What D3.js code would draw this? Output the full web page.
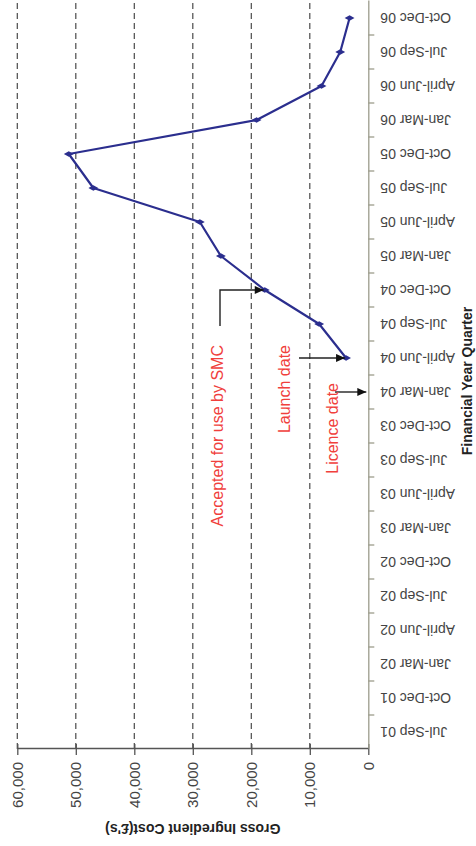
<!DOCTYPE html>
<html>
<head>
<meta charset="utf-8">
<script src="https://cdn.jsdelivr.net/npm/d3@7"></script>
<style>
  html, body { margin: 0; padding: 0; background: #fff; }
  svg { display: block; }
</style>
</head>
<body>
<script>
// Financial year quarters along the category axis
const quarters = [
  "Jul-Sep 01", "Oct-Dec 01", "Jan-Mar 02", "April-Jun 02", "Jul-Sep 02", "Oct-Dec 02",
  "Jan-Mar 03", "April-Jun 03", "Jul-Sep 03", "Oct-Dec 03", "Jan-Mar 04", "April-Jun 04",
  "Jul-Sep 04", "Oct-Dec 04", "Jan-Mar 05", "April-Jun 05", "Jul-Sep 05", "Oct-Dec 05",
  "Jan-Mar 06", "April-Jun 06", "Jul-Sep 06", "Oct-Dec 06"
];

// Gross ingredient cost per quarter (£), from launch onwards
const costQuarters = [
  "April-Jun 04", "Jul-Sep 04", "Oct-Dec 04", "Jan-Mar 05", "April-Jun 05", "Jul-Sep 05",
  "Oct-Dec 05", "Jan-Mar 06", "April-Jun 06", "Jul-Sep 06", "Oct-Dec 06"
];
const costValues = [3800, 8400, 17700, 25200, 28800, 47000, 51200, 19100, 8000, 4800, 3200];

// Value axis ticks
const valueTicks = [0, 10000, 20000, 30000, 40000, 50000, 60000];

// Milestone annotations
const eventQuarters = ["Oct-Dec 04", "April-Jun 04", "Jan-Mar 04"];
const eventLabels = ["Accepted for use by SMC", "Launch date", "Licence date"];
const eventTargets = [17700, 3800, 0];

const W = 476, H = 846;
const FONT = "'Liberation Sans', Arial, Helvetica, sans-serif";

const svg = d3.select("body").append("svg")
  .attr("width", W).attr("height", H)
  .style("font-family", FONT);

const defs = svg.append("defs");
defs.append("marker")
  .attr("id", "arrowhead")
  .attr("markerUnits", "userSpaceOnUse")
  .attr("viewBox", "0 -5 10 10")
  .attr("refX", 10).attr("refY", 0)
  .attr("markerWidth", 10).attr("markerHeight", 9)
  .attr("orient", "auto")
  .append("path")
  .attr("d", "M0,-4.5L10,0L0,4.5Z")
  .attr("fill", "#111");

// The chart is laid out landscape (H wide, W tall) and turned a quarter turn anticlockwise
const g = svg.append("g").attr("transform", `translate(0,${H}) rotate(-90)`);

const x = d3.scaleBand().domain(quarters).range([97, 845]).paddingInner(0).paddingOuter(0);
const y = d3.scaleLinear().domain([0, 60000]).range([368.3, 17.3]);
const cx = q => x(q) + x.bandwidth() / 2;

// Dashed horizontal gridlines
g.append("g").selectAll("line")
  .data(valueTicks.filter(v => v > 0))
  .join("line")
  .attr("x1", x.range()[0]).attr("x2", x.range()[1])
  .attr("y1", d => y(d)).attr("y2", d => y(d))
  .attr("stroke", "#4a4a4a")
  .attr("stroke-width", 1.2)
  .attr("stroke-dasharray", "6,4");

// Value axis
const yAxis = g.append("g")
  .attr("transform", `translate(${x.range()[0]},0)`)
  .call(d3.axisLeft(y).tickValues(valueTicks).tickFormat(d3.format(","))
    .tickSizeInner(0).tickSizeOuter(0).tickPadding(13));
yAxis.select(".domain").attr("stroke", "#555").attr("stroke-width", 1.3);
yAxis.selectAll(".tick line").attr("x1", -6).attr("x2", 5).attr("stroke", "#555").attr("stroke-width", 1.3);
yAxis.selectAll(".tick text")
  .attr("font-size", 15).attr("fill", "#444").attr("font-family", FONT);

// Category axis
const xAxis = g.append("g")
  .attr("transform", `translate(0,${y(0)})`)
  .call(d3.axisBottom(x).tickSizeInner(0).tickSizeOuter(0));
xAxis.select(".domain").attr("stroke", "#9c9c8c").attr("stroke-width", 1.3);
xAxis.selectAll(".tick line").remove();
xAxis.selectAll(".tick text")
  .attr("transform", "rotate(-90)")
  .attr("x", -12).attr("y", 0).attr("dy", "0.35em")
  .attr("text-anchor", "end")
  .attr("font-size", 14).attr("fill", "#444").attr("font-family", FONT);
// tick marks sit between categories
const boundaries = quarters.map(q => x(q)).concat([x.range()[1]]);
xAxis.append("g").selectAll("line")
  .data(boundaries.slice(1, -1))
  .join("line")
  .attr("x1", d => d).attr("x2", d => d)
  .attr("y1", 0).attr("y2", 6)
  .attr("stroke", "#9c9c8c").attr("stroke-width", 1.3);

// Axis titles
g.append("text")
  .attr("transform", `translate(17,${(y(0) + y(60000)) / 2}) rotate(-90)`)
  .attr("text-anchor", "middle").attr("dy", "0.35em")
  .attr("font-size", 14).attr("font-weight", "bold").attr("fill", "#222")
  .text("Gross Ingredient Cost(£'s)");

g.append("text")
  .attr("x", (x.range()[0] + x.range()[1]) / 2 - 6)
  .attr("y", 467).attr("dy", "0.35em")
  .attr("text-anchor", "middle")
  .attr("font-size", 14).attr("font-weight", "bold").attr("fill", "#222")
  .text("Financial Year Quarter");

// Cost line with markers
const series = costQuarters.map((q, i) => ({ q, v: costValues[i] }));
g.append("path")
  .datum(series)
  .attr("fill", "none")
  .attr("stroke", "#2b2e8e")
  .attr("stroke-width", 2.2)
  .attr("stroke-linejoin", "round")
  .attr("d", d3.line().x(d => cx(d.q)).y(d => y(d.v)));
g.append("g").selectAll("path")
  .data(series)
  .join("path")
  .attr("transform", d => `translate(${cx(d.q)},${y(d.v)})`)
  .attr("d", d3.symbol(d3.symbolDiamond, 28))
  .attr("fill", "#2b2e8e");

// Milestone annotations
const ann = g.append("g");
const arrowStyle = sel => sel.attr("fill", "none").attr("stroke", "#222")
  .attr("stroke-width", 1.4).attr("marker-end", "url(#arrowhead)");
const labelStyle = sel => sel.attr("fill", "#f0403c").attr("font-size", 16)
  .attr("text-anchor", "end").attr("font-family", FONT);

// Accepted for use by SMC: elbow connector to the data point
{
  const c = cx(eventQuarters[0]);
  ann.append("path").call(arrowStyle)
    .attr("d", `M${c - 36},220H${c}V${y(eventTargets[0]) - 1}`);
  ann.append("text").call(labelStyle)
    .attr("x", c - 55).attr("y", 223).text(eventLabels[0]);
}
// Launch date
{
  const c = cx(eventQuarters[1]);
  ann.append("path").call(arrowStyle)
    .attr("d", `M${c},299V${y(eventTargets[1]) - 1}`);
  ann.append("text").call(labelStyle)
    .attr("x", c + 13).attr("y", 290).text(eventLabels[1]);
}
// Licence date
{
  const c = cx(eventQuarters[2]);
  ann.append("path").call(arrowStyle)
    .attr("d", `M${c},335V${y(eventTargets[2]) - 2}`);
  ann.append("text").call(labelStyle)
    .attr("x", c + 9).attr("y", 338).text(eventLabels[2]);
}
</script>
</body>
</html>
